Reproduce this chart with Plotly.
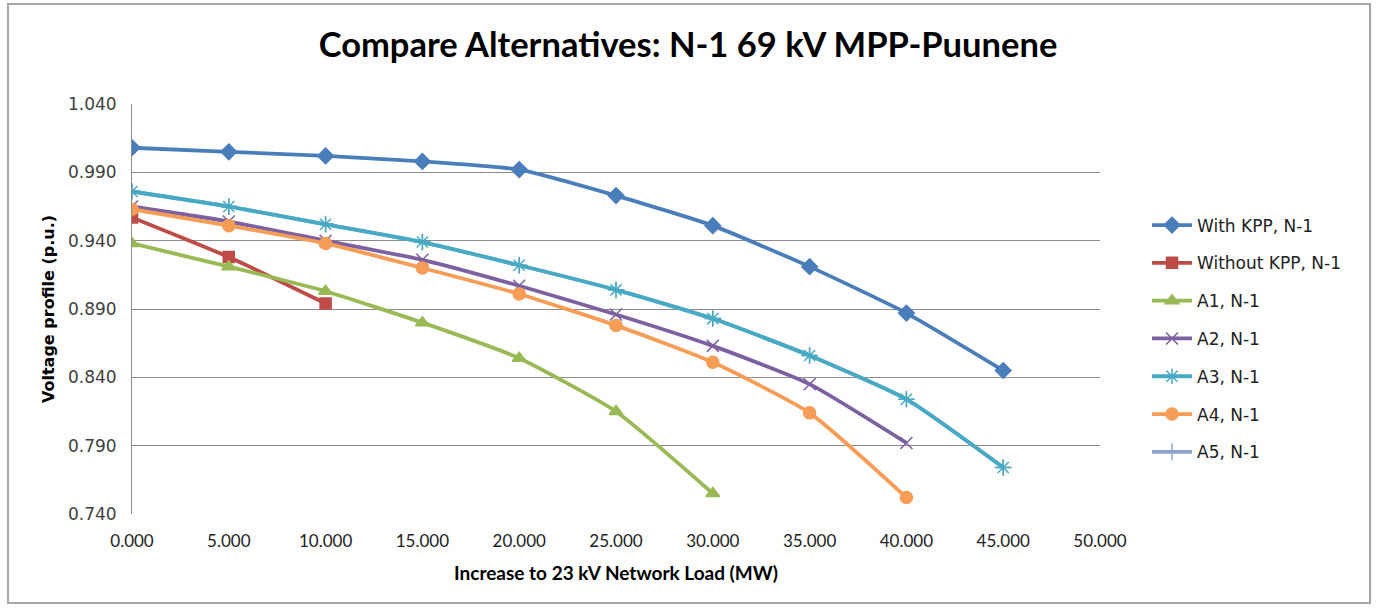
import plotly.graph_objects as go

x_load = [0, 5, 10, 15, 20, 25, 30, 35, 40, 45]

with_kpp = [1.008, 1.005, 1.002, 0.998, 0.992, 0.973, 0.951, 0.921, 0.887, 0.845]
without_kpp = [0.957, 0.928, 0.894]
a1 = [0.938, 0.921, 0.903, 0.880, 0.854, 0.815, 0.755]
a2 = [0.965, 0.954, 0.940, 0.926, 0.907, 0.886, 0.863, 0.835, 0.792]
a3 = [0.976, 0.965, 0.952, 0.939, 0.922, 0.904, 0.883, 0.856, 0.824, 0.774]
a4 = [0.963, 0.951, 0.938, 0.920, 0.901, 0.878, 0.851, 0.814, 0.752]
# A5 is not visible in the picture: it lies under A3
a5 = [0.976, 0.965, 0.952, 0.939, 0.922, 0.904, 0.883, 0.856, 0.824, 0.774]

y_ticks = [0.740, 0.790, 0.840, 0.890, 0.940, 0.990, 1.040]
x_ticks = [0, 5, 10, 15, 20, 25, 30, 35, 40, 45, 50]

# (name, values, color, symbol, size, legend rank); drawing order puts A5 under A3
series = [
    ("A5, N-1", a5, "#8EA5CB", "cross-thin", 12, 7),
    ("With KPP, N-1", with_kpp, "#4A7EBB", "diamond", 12, 1),
    ("Without KPP, N-1", without_kpp, "#BE4B48", "square", 11, 2),
    ("A1, N-1", a1, "#98B954", "triangle-up", 12, 3),
    ("A2, N-1", a2, "#7D60A0", "x-thin", 12, 4),
    ("A3, N-1", a3, "#46AAC5", "asterisk", 13, 5),
    ("A4, N-1", a4, "#F59D56", "circle", 12, 6),
]

fig = go.Figure()
for name, vals, color, sym, size, rank in series:
    fig.add_trace(go.Scatter(
        x=x_load[:len(vals)], y=vals, name=name, mode="lines+markers",
        legendgroup=name, legendrank=rank,
        line=dict(color=color, width=3.8, shape="spline", smoothing=0.5),
        marker=dict(symbol=sym, size=size, color=color,
                    line=dict(color=color, width=1.5)),
    ))

fig.update_layout(
    width=1376, height=608,
    paper_bgcolor="white", plot_bgcolor="white",
    margin=dict(l=132, r=276, t=104, b=94),
    title=dict(text="<b>Compare Alternatives: N-1 69 kV MPP-Puunene</b>",
               x=0.5, xref="container", xanchor="center",
               y=0.926, yref="container", yanchor="middle",
               font=dict(family="Lato", size=34.5, color="#000000")),
    font=dict(family="DejaVu Sans", size=13, color="#404040"),
    legend=dict(x=(1147 - 132) / 968, xanchor="left",
                y=(514 - 338.5) / 410, yanchor="middle",
                font=dict(family="DejaVu Sans", size=17, color="#222222"),
                tracegroupgap=12.7, itemwidth=40, bgcolor="rgba(0,0,0,0)"),
    showlegend=True,
    shapes=[dict(type="rect", xref="paper", yref="paper",
                 x0=(8 - 132) / 968, x1=(1370 - 132) / 968,
                 y0=(514 - 603) / 410, y1=(514 - 4) / 410,
                 line=dict(color="#A6A6A6", width=2), layer="below")],
)

fig.update_xaxes(
    range=[0, 50], tickvals=x_ticks, tickformat=".3f",
    showgrid=False, zeroline=False, showline=False,
    ticks="", ticklabelstandoff=15,
    tickfont=dict(family="Lato", size=17, color="#222222"),
    title=dict(text="<b>Increase to 23 kV Network Load (MW)</b>",
               font=dict(family="Lato", size=19, color="#000000"), standoff=16),
)
fig.update_yaxes(
    range=[0.740, 1.040], tickvals=y_ticks, tickformat=".3f",
    showgrid=True, gridcolor="#8C8C8C", gridwidth=1,
    zeroline=False, showline=True, linecolor="#8C8C8C", linewidth=1,
    ticks="", ticklabelstandoff=11,
    tickfont=dict(family="DejaVu Sans", size=17, color="#404040"),
    title=dict(text="<b>Voltage profile (p.u.)</b>",
               font=dict(family="DejaVu Sans", size=16, color="#000000"), standoff=9),
)

fig.write_html("out.html", config={"displayModeBar": False},
               post_script="document.body.style.margin='0';")
